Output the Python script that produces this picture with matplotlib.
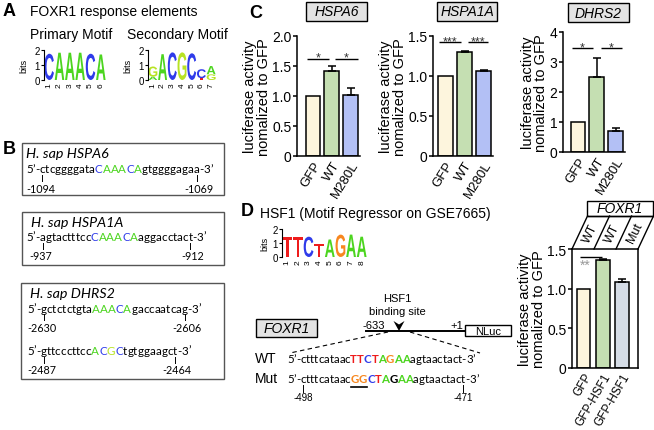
import matplotlib
matplotlib.use('Agg')
import matplotlib.pyplot as plt
from matplotlib.patches import Rectangle, Polygon, PathPatch
from matplotlib.textpath import TextPath
from matplotlib.font_manager import FontProperties
import matplotlib.transforms as mtrans

plt.rcParams['font.family'] = ['Liberation Sans', 'DejaVu Sans']

W, H = 654, 431

# ---------------- colours ----------------
BLUE = '#2f3bea'; GREEN = '#4cd51f'; LIME = '#b8e324'; RED = '#ee1c1c'; ORANGE = '#f7871f'

# ---------------- data ----------------
primary_letters = ['C', 'A', 'A', 'A', 'C', 'A']
primary_bits = [1.75, 1.82, 1.82, 1.82, 1.75, 1.70]
secondary_letters = [['A', 'G'], ['A'], ['C'], ['G'], ['C'], ['T', 'C'], ['G', 'A']]
secondary_bits = [[0.22, 0.68], [1.72], [1.84], [1.84], [1.78], [0.12, 0.60], [0.38, 0.55]]
hsf1_letters = ['T', 'T', 'C', 'T', 'A', 'G', 'A', 'A']
hsf1_bits = [1.45, 1.45, 1.45, 0.95, 1.25, 1.60, 1.60, 1.45]

b_titles = ['H. sap HSPA6', 'H. sap HSPA1A', 'H. sap DHRS2', None]
b_seqs = ['ctcggggataCAAACAgtggggagaa', 'agtactttccCAAACAaggacctact',
          'gctctctgtaAAACAgaccaatcag', 'gttcccttccACGCtgtggaagct']
b_starts = ['-1094', '-937', '-2630', '-2487']
b_ends = ['-1069', '-912', '-2606', '-2464']

c_genes = ['HSPA6', 'HSPA1A', 'DHRS2']
c_labels = ['GFP', 'WT', 'M280L']
c_means = [[1.0, 1.42, 1.02], [1.0, 1.30, 1.06], [1.0, 2.50, 0.71]]
c_errs = [[0, 0.08, 0.12], [0, 0.012, 0.018], [0, 0.63, 0.08]]
c_sig = [['*', '*'], ['***', '***'], ['*', '*']]
c_ylim = [2.0, 1.5, 4.0]
c_yticks = [[0, 0.5, 1.0, 1.5, 2.0], [0, 0.5, 1.0, 1.5], [0, 1, 2, 3, 4]]
c_yticklabels = [['0', '0.5', '1.0', '1.5', '2.0'], ['0', '0.5', '1.0', '1.5'], ['0', '1', '2', '3', '4']]
c_sig_y = [1.62, 1.42, 3.47]

d_wt_seq = 'ctttcataacTTCTAGAAagtaactact'
d_mut_seq = 'ctttcataacGGCTAGAAagtaactact'
d_mut_colors = [ORANGE, ORANGE, BLUE, RED, GREEN, 'black', GREEN, GREEN]
d_start, d_end = '-498', '-471'
d_labels = ['GFP', 'GFP-HSF1', 'GFP-HSF1']
d_constructs = ['WT', 'WT', 'Mut']
d_means = [1.0, 1.36, 1.09]
d_errs = [0, 0.015, 0.03]
d_sig = '**'

C_COLORS = ['#fdf5dd', '#c5dfb2', '#b3c0f5']
D_COLORS = ['#fdf5dd', '#c5dfb2', '#d5dce6']

# ---------------- figure ----------------
fig = plt.figure(figsize=(W / 100, H / 100), dpi=100)
ov = fig.add_axes([0, 0, 1, 1])
ov.set_xlim(0, W); ov.set_ylim(H, 0); ov.axis('off')
R = fig.canvas.get_renderer()


def pax(x0, y0, x1, y1):
    return fig.add_axes([x0 / W, 1 - y1 / H, (x1 - x0) / W, (y1 - y0) / H])


SEQF = 'Lato'


def _w(s, size=20, weight='normal', style='normal', family=SEQF):
    t = ov.text(0, 0, s, fontsize=size, family=family, weight=weight, style=style)
    w = t.get_window_extent(renderer=R).width
    t.remove()
    return w


def fit_size(s, target, weight='normal', style='normal', family=SEQF):
    size = 20 * target / _w(s, 20, weight, style, family)
    size *= target / _w(s, size, weight, style, family)
    return size


def draw_seq(x, yb, seq, size, colmap=None, colors=None, bold_upper=False):
    chars = [(c, 'black', 'normal', False) for c in '5’-']
    ui = 0
    for c in seq:
        if c.isupper():
            col = colors[ui] if colors is not None else colmap[c]
            wt = 'bold' if (bold_upper or col == 'black') else 'normal'
            ui += 1
            chars.append((c, col, wt, True))
        else:
            chars.append((c, 'black', 'normal', True))
    chars += [(c, 'black', 'normal', False) for c in '-3’']
    full = ''.join(c[0] for c in chars)
    centers = []
    for i, (c, col, wt, inseq) in enumerate(chars):
        wc = _w(c, size)
        left = 0.0 if i == 0 else _w(full[:i + 1], size) - wc
        cx = x + left + wc / 2
        ov.text(cx, yb, c, fontsize=size, family=SEQF, color=col, weight=wt,
                ha='center', va='baseline')
        if inseq:
            centers.append(cx)
    return centers


LOGO_FP = FontProperties(family='Liberation Sans', weight='bold')


def draw_letter(ax, ch, x, y, w, h, color):
    tp = TextPath((0, 0), ch, size=1, prop=LOGO_FP)
    bb = tp.get_extents()
    t = mtrans.Affine2D().translate(-bb.x0, -bb.y0).scale(w / bb.width, h / bb.height).translate(x, y)
    ax.add_patch(PathPatch(t.transform_path(tp), fc=color, ec='none'))


def logo(rect, letters, bits, colors, labelpad=3):
    ax = pax(*rect)
    n = len(letters)
    for i in range(n):
        y = 0
        for ch, h in zip(letters[i], bits[i]):
            draw_letter(ax, ch, i - 0.46, y, 0.92, h, colors[ch])
            y += h
    ax.set_xlim(-0.5, n - 0.5); ax.set_ylim(0, 2)
    ax.set_yticks([0, 1, 2]); ax.set_yticklabels(['0', '1', '2'], fontsize=7)
    ax.set_xticks(range(n)); ax.set_xticklabels([str(i + 1) for i in range(n)], rotation=90, fontsize=6)
    ax.tick_params(axis='x', length=0, pad=1.5)
    ax.tick_params(axis='y', length=2, pad=1, width=0.8)
    for s in ['top', 'right', 'bottom']:
        ax.spines[s].set_visible(False)
    ax.spines['left'].set_linewidth(0.8)
    ax.patch.set_visible(False)
    ax.set_ylabel('bits', fontsize=6.5, labelpad=labelpad)
    return ax


def bar_panel(rect, xlim, ylim, yticks, yticklabels, labels, means, errs, colors, width,
              box=False, xfs=9.5, rot=58):
    ax = pax(*rect)
    x = list(range(len(means)))
    ax.bar(x, means, width=width, color=colors, edgecolor='black', linewidth=1.1, zorder=2)
    ex = [i for i in x if errs[i] > 0]
    ax.errorbar(ex, [means[i] for i in ex], yerr=[[0] * len(ex), [errs[i] for i in ex]],
                fmt='none', ecolor='black', elinewidth=1.1, capsize=3, capthick=1.1, zorder=3)
    ax.set_xlim(*xlim); ax.set_ylim(*ylim)
    ax.set_yticks(yticks); ax.set_yticklabels(yticklabels, fontsize=10)
    ax.set_xticks(x)
    ax.set_xticklabels(labels, rotation=rot, ha='right', rotation_mode='anchor', fontsize=xfs)
    ax.tick_params(axis='x', length=0, pad=2)
    ax.tick_params(axis='y', length=3, width=1.1, pad=1)
    for s in ['top', 'right']:
        ax.spines[s].set_visible(box)
    for s in ax.spines.values():
        s.set_linewidth(1.1)
    ax.set_ylabel('luciferase activity\nnomalized to GFP', fontsize=10.5, linespacing=0.95, labelpad=1)
    ax.patch.set_visible(False)
    return ax


def sig(ax, x0, x1, y, s, below=False, color='#333333', fs=9, xc=None):
    ax.plot([x0, x1], [y, y], color='black', lw=1.0, zorder=4, solid_capstyle='butt')
    off = -8.5 if below else -1.5
    if xc is None:
        xc = (x0 + x1) / 2
    ax.annotate(s, xy=(xc, y), xytext=(0, off), textcoords='offset points',
                ha='center', va='baseline', fontsize=fs, color=color)


def gray_box(x0, y0, x1, y1, text, fc='#e3e3e3', size=10):
    ov.add_patch(Rectangle((x0, y0), x1 - x0, y1 - y0, fc=fc, ec='black', lw=1.0))
    ov.text((x0 + x1) / 2, (y0 + y1) / 2, text, style='italic', fontsize=size, ha='center', va='center')


# ---------------- Panel A ----------------
ov.text(3, 12, 'A', fontsize=13, weight='bold', va='center')
ov.text(30, 12, 'FOXR1 response elements', fontsize=10, va='center')
ov.text(30, 35, 'Primary Motif', fontsize=10, va='center')
ov.text(127, 35, 'Secondary Motif', fontsize=10, va='center')
logo((44, 51, 106, 81), [[c] for c in primary_letters], [[b] for b in primary_bits],
     {'A': GREEN, 'C': BLUE}, labelpad=4)
logo((148, 51, 216, 81), secondary_letters, secondary_bits,
     {'A': GREEN, 'C': BLUE, 'G': LIME, 'T': RED}, labelpad=4)

# ---------------- Panel B ----------------
ov.text(3, 150, 'B', fontsize=13, weight='bold', va='center')
bsize = fit_size('5’-' + b_seqs[0] + '-3’', 188)
tsize = fit_size(b_titles[0], 83, style='italic')
lsize = fit_size(b_starts[0], 29)
B_COLMAP = {'A': GREEN, 'C': BLUE, 'G': LIME, 'T': RED}
ov.add_patch(Rectangle((22, 144), 202, 52, fill=False, ec='#555555', lw=1.0))
ov.add_patch(Rectangle((22, 213), 202, 53, fill=False, ec='#555555', lw=1.0))
ov.add_patch(Rectangle((21, 284), 203, 96, fill=False, ec='#555555', lw=1.0))
title_pos = [(26, 157.7), (31, 227.3), (30, 297.7)]
seq_pos = [(26, 173.3), (26, 241.0), (27, 312.7), (27, 355.0)]
for i in range(4):
    if b_titles[i] is not None:
        ov.text(title_pos[i][0], title_pos[i][1], b_titles[i], style='italic', family=SEQF,
                fontsize=tsize, va='baseline')
    xs, yb = seq_pos[i]
    cen = draw_seq(xs, yb, b_seqs[i], bsize, colmap=B_COLMAP)
    for cx, lab, off in [(cen[0], b_starts[i], -2.0), (cen[-1], b_ends[i], 2.0)]:
        ov.plot([cx, cx], [yb + 2.5, yb + 8.5], color='black', lw=0.7)
        ov.text(cx + off, yb + 19.5, lab, family=SEQF, fontsize=lsize, ha='center', va='baseline')

# ---------------- Panel C ----------------
ov.text(249, 14, 'C', fontsize=13, weight='bold', va='center')
c_rects = [(297, 37, 360, 157), (433, 37, 493, 157), (563, 33, 625, 153)]
c_xlims = [(-0.85, 2.5), (-0.66, 2.5), (-0.79, 2.5)]
c_sig_spans = [[(-0.32, 0.85), (1.17, 2.39)], [(-0.34, 0.82), (1.18, 2.24)], [(-0.31, 0.80), (1.23, 2.34)]]
c_boxes = [(306, 3, 367, 22), (437, 3, 497, 22), (568, 4, 629, 23)]
for k in range(3):
    ax = bar_panel(c_rects[k], c_xlims[k], (0, c_ylim[k]), c_yticks[k], c_yticklabels[k],
                   c_labels, c_means[k], c_errs[k], C_COLORS, 0.78)
    for (a, b), s in zip(c_sig_spans[k], c_sig[k]):
        sig(ax, a, b, c_sig_y[k], s)
    gray_box(*c_boxes[k], c_genes[k])

# ---------------- Panel D ----------------
ov.text(241, 212, 'D', fontsize=13, weight='bold', va='center')
ov.text(260, 214, 'HSF1 (Motif Regressor on GSE7665)', fontsize=10, va='center')
logo((282, 230, 367, 258), [[c] for c in hsf1_letters], [[b] for b in hsf1_bits],
     {'A': GREEN, 'C': BLUE, 'G': ORANGE, 'T': RED}, labelpad=2)

# schematic
gray_box(256, 320, 317, 338, 'FOXR1', size=10)
ov.text(397, 299, 'HSF1', fontsize=8, ha='center', va='center')
ov.text(397, 312, 'binding site', fontsize=8, ha='center', va='center')
ov.text(374, 326, '-633', fontsize=8, ha='center', va='center')
ov.text(457, 326, '+1', fontsize=8, ha='center', va='center')
ov.plot([366, 465], [332, 332], color='black', lw=1.4)
ov.add_patch(Polygon([(393.5, 322), (399, 325.5), (404.5, 322), (399, 332)], closed=True, fc='black', ec='none'))
ov.add_patch(Rectangle((465, 326), 46, 11, fc='white', ec='black', lw=1.0))
ov.text(488, 331.8, 'NLuc', fontsize=8, ha='center', va='center')
ov.plot([388, 290], [333, 354], color='black', lw=0.8, ls=(0, (4, 3)))
ov.plot([410, 480], [333, 354], color='black', lw=0.8, ls=(0, (4, 3)))

dsize = fit_size('5’-' + d_wt_seq + '-3’', 192)
ov.text(255, 363.3, 'WT', fontsize=10, va='baseline')
ov.text(255, 383.3, 'Mut', fontsize=10, va='baseline')
draw_seq(287, 363.3, d_wt_seq, dsize, colmap={'A': GREEN, 'C': BLUE, 'G': ORANGE, 'T': RED}, bold_upper=True)
cen = draw_seq(287, 383.3, d_mut_seq, dsize, colors=d_mut_colors, bold_upper=True)
ov.plot([cen[10] - 4, cen[11] + 4], [388.5, 388.5], color='black', lw=1.2)
for cx, lab in [(cen[0], d_start), (cen[-1], d_end)]:
    ov.plot([cx, cx], [386, 393], color='black', lw=0.7)
    ov.text(cx, 400.7, lab, fontsize=7, ha='center', va='baseline')

# right bar chart
axd = bar_panel((572, 250, 638, 369), (-0.6, 2.83), (0, 1.5), [0, 0.5, 1.0, 1.5],
                ['0', '0.5', '1.0', '1.5'], d_labels, d_means, d_errs, D_COLORS, 0.7,
                box=True, xfs=8.5, rot=60)
sig(axd, -0.18, 0.96, 1.40, d_sig, below=True, color='#999999', fs=10, xc=0.1)

# header cells
ov.add_patch(Rectangle((587, 202), 66, 15, fc='white', ec='black', lw=1.0))
ov.text(620, 209.5, 'FOXR1', style='italic', fontsize=10, ha='center', va='center')
bx = [572, 594, 616, 638]
dx = 15.5
ov.plot([bx[0] + dx, bx[-1] + dx], [217, 217], color='black', lw=1.0)
for xb in bx:
    ov.plot([xb, xb + dx], [250, 217], color='black', lw=1.0)
for i, lab in enumerate(d_constructs):
    cx = (bx[i] + bx[i + 1]) / 2 + dx / 2
    ov.text(cx, 233.5, lab, fontsize=9, rotation=64, ha='center', va='center', rotation_mode='anchor')

fig.savefig('out.png', dpi=100)
